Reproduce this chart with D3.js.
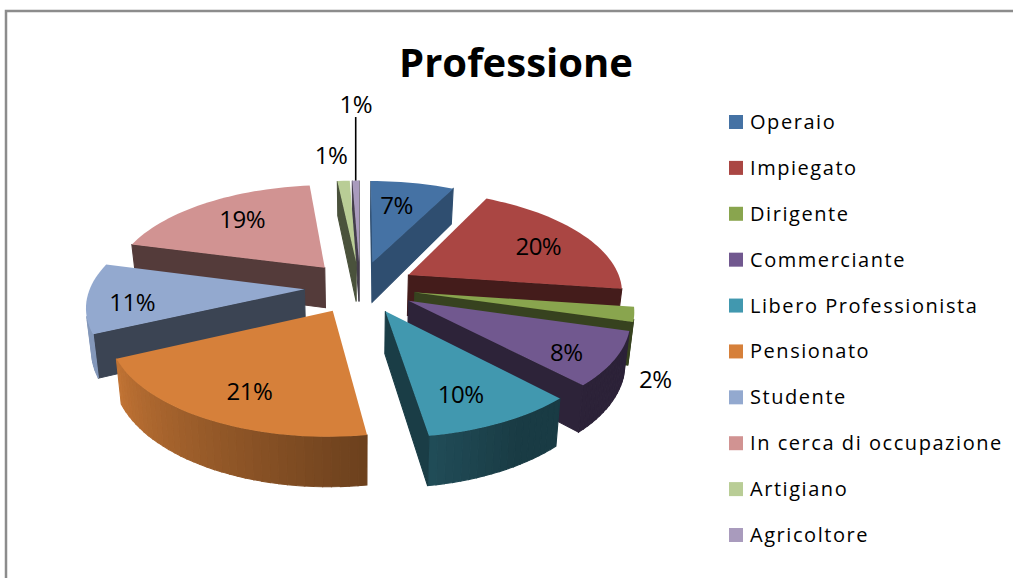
<!DOCTYPE html>
<html><head><meta charset="utf-8">
<script src="https://cdn.jsdelivr.net/npm/d3@7"></script>
<style>html,body{margin:0;padding:0;background:#fff}svg{display:block}text{font-family:"Open Sans",sans-serif;fill:#000}</style>
</head><body><svg id="c" width="1013" height="578"></svg>
<script>
const titleText = "Professione";
const categories = ["Operaio","Impiegato","Dirigente","Commerciante","Libero Professionista","Pensionato","Studente","In cerca di occupazione","Artigiano","Agricoltore"];
const percentages = [7.4,19.8,2.3,8.4,9.7,20.5,11,19.2,1.1,0.6];
const colours = ["#4572A4","#AA4643","#89A54E","#71588F","#4198AF","#D6803A","#93A9CF","#D19392","#B9CD96","#A99BBD"];

// layout of the projected pie
const cx = 360, cy = 287, R = 214, K = 100, persp = 0.146, explode = 0.26, depth = 41, floorX = 0.98;
// paint order, far slices first
const paintOrder = [9,8,0,7,1,6,2,3,5,4];
// label nudges from the default slice position
const labelNudge = [[-2,-5],[21,-1],[106,74],[34,17],[7,19],[-10,18],[-38,8],[-6,-6],[-17,-53],[-1,-104]];

const svg = d3.select("#c");
const project = (u, v, z) => {
  const s = 1 / (1 - persp * v);
  const x = R * u * s, y = K * v * s;
  return z ? [cx + x * floorX, cy + y + depth * s] : [cx + x, cy + y];
};
const arcs = d3.pie().sort(null).value(d => d)(percentages);
const wallShade = d3.scaleLinear()
  .domain([0,104,105,150,171,245,360].map(d => d * Math.PI / 180))
  .range([.7,.65,.39,.39,.5,.9,.9]);
const shaded = (c, f) => { const r = d3.rgb(c); return d3.rgb(r.r * f, r.g * f, r.b * f).formatHex(); };
const line = d3.line();

// frame
svg.append("path").attr("d", line([[6,578],[6,11],[1013,11]]))
  .attr("fill","none").attr("stroke","#8c8c8c").attr("stroke-width",2.5);

const geom = arcs.map((a, i) => {
  const m = (a.startAngle + a.endAngle) / 2;
  const ou = explode * Math.sin(m), ov = -explode * Math.cos(m);
  const at = (t, r = 1) => [ou + r * Math.sin(t), ov - r * Math.cos(t)];
  const n = Math.max(2, Math.ceil((a.endAngle - a.startAngle) / 0.035));
  const angles = d3.range(n + 1).map(k => a.startAngle + (a.endAngle - a.startAngle) * k / n);
  return {a, i, m, apex: [ou, ov], at, angles};
});

paintOrder.forEach(i => {
  const g = geom[i], col = colours[i], grp = svg.append("g");
  const rim = g.angles.map(t => g.at(t));
  const drawQuad = (p, q, fill) => {
    const poly = [project(p[0],p[1],false), project(q[0],q[1],false), project(q[0],q[1],true), project(p[0],p[1],true)];
    if (d3.polygonArea(poly) > 0) grp.append("path").attr("d", line(poly) + "Z").attr("fill", fill).attr("stroke", fill).attr("stroke-width", 1.1);
  };
  // radial faces
  const radialShade = t => (t < Math.PI * 0.3 ? .68 : .4);
  drawQuad(g.apex, rim[0], shaded(col, radialShade(g.a.startAngle)));
  // rim wall
  for (let k = 0; k < rim.length - 1; k++)
    drawQuad(rim[k], rim[k+1], shaded(col, wallShade((g.angles[k] + g.angles[k+1]) / 2)));
  drawQuad(rim[rim.length-1], g.apex, shaded(col, radialShade(g.a.endAngle)));
  // top surface
  const top = [g.apex, ...rim].map(p => project(p[0], p[1], false));
  grp.append("path").attr("d", line(top) + "Z").attr("fill", col);
});

// labels
geom.forEach(g => {
  const [lu, lv] = g.at(g.m, .62);
  const p = project(lu, lv, false), nudge = labelNudge[g.i];
  svg.append("text").attr("x", p[0] + nudge[0]).attr("y", p[1] + nudge[1] + 8)
    .attr("text-anchor","middle").attr("font-size",24).attr("letter-spacing",-.5).text(Math.round(percentages[g.i]) + "%");
});
// leader line of the last slice
const last = geom[9], lastRim = project(...last.at(last.m), false), lastLab = project(...last.at(last.m, .62), false);
svg.append("path").attr("d", line([[lastRim[0], lastRim[1]], [lastRim[0], lastLab[1] + labelNudge[9][1] + 12]]))
  .attr("stroke","#000").attr("stroke-width",1.6).attr("fill","none");

// title
svg.append("text").attr("x",516).attr("y",77).attr("text-anchor","middle")
  .attr("font-size",40).attr("font-weight",700).text(titleText);

// legend
const ly = d3.scalePoint().domain(categories).range([122,535]);
const leg = svg.append("g").selectAll("g").data(categories).join("g")
  .attr("transform", d => `translate(0,${ly(d)})`);
leg.append("rect").attr("x",729).attr("y",-7).attr("width",14).attr("height",14)
  .attr("fill",(d,i) => colours[i]);
leg.append("text").attr("x",750).attr("y",7).attr("font-size",20).attr("letter-spacing",1.55).text(d => d);
</script></body></html>
